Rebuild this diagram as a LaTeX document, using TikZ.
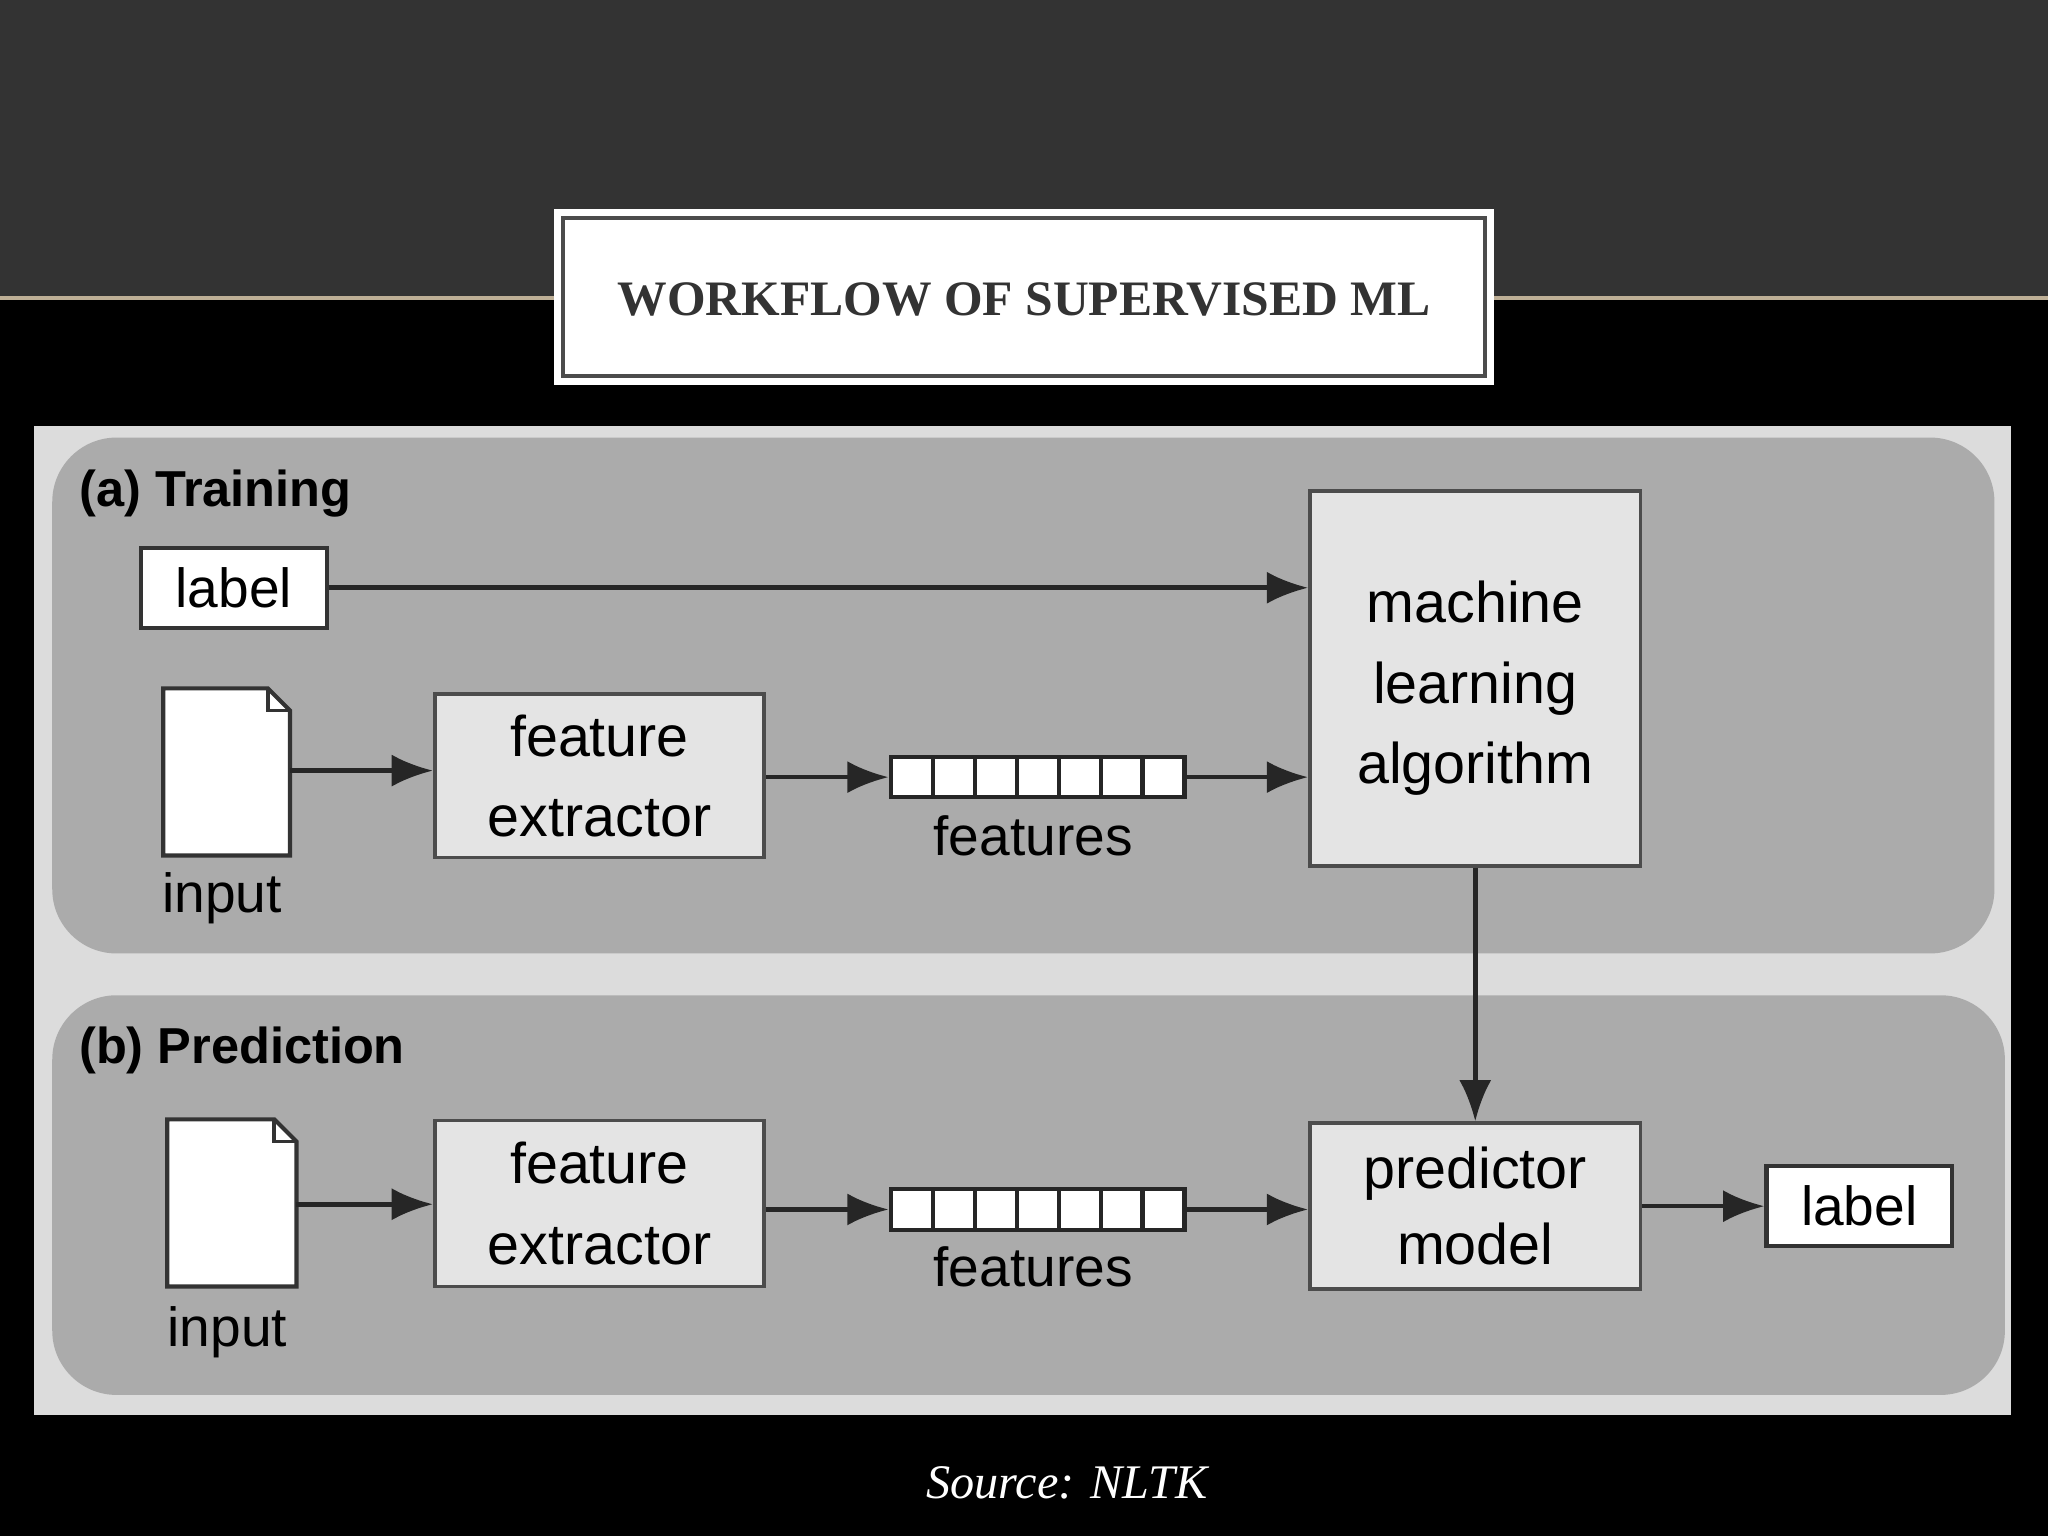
\documentclass[tikz,border=0pt]{standalone}
\usepackage{fontspec}
\setmainfont{Liberation Serif}
\newfontfamily\sansf{Liberation Sans}
\usetikzlibrary{arrows.meta}
\definecolor{band}{HTML}{333333}
\definecolor{panel}{HTML}{ABABAB}
\definecolor{outer}{HTML}{DCDCDC}
\definecolor{boxc}{HTML}{E4E4E4}
\begin{document}
\begin{tikzpicture}[x=0.01cm,y=-0.01cm,
  box/.style={draw=gray!60!black,fill=boxc,line width=0.8pt,font=\sansf\fontsize{12.5}{17.5}\selectfont,align=center,inner sep=0pt,minimum width=2.52cm},
  lab/.style={draw=black!80,fill=white,line width=0.9pt,font=\sansf\fontsize{12}{14}\selectfont,inner sep=0pt,minimum width=1.42cm,minimum height=0.61cm},
  txt/.style={font=\sansf\fontsize{12}{14}\selectfont,inner sep=0pt},
  cell/.style={draw=black!85,fill=white,line width=0.9pt,inner sep=0pt,minimum width=0.3214cm,minimum height=0.31cm},
  arr/.style={-{Latex[length=9pt,width=7pt]},line width=1pt,black!85}]
\useasboundingbox (0,0) rectangle (1568,1176);
\fill[black] (0,0) rectangle (1568,1176);
\fill[band] (0,0) rectangle (1568,228);
\draw[color={rgb,255:red,190;green,175;blue,150},line width=0.8pt] (0,228) -- (1568,228);
\draw[white,line width=1.2pt,fill=white] (426,162) rectangle (1142,293);
\draw[black!70,line width=0.8pt] (431,167) rectangle (1137,288);
\node[font=\bfseries\fontsize{10.8}{12}\selectfont,text=black!80] (title) at (784,229) {WORKFLOW OF SUPERVISED ML};
% diagram
\fill[outer] (26,326) rectangle (1540,1083);
\fill[panel,rounded corners=14pt] (40,335) rectangle (1527,730);
\fill[panel,rounded corners=14pt] (40,762) rectangle (1535,1068);
\node[txt,font=\sansf\bfseries\fontsize{11}{13}\selectfont,anchor=west] (ta) at (60,378) {(a) Training};
\node[txt,font=\sansf\bfseries\fontsize{11}{13}\selectfont,anchor=west] (tb) at (60,804) {(b) Prediction};
% training
\node[lab] (l1) at (179,450) {label};
\draw[fill=white,draw=black!80,line width=0.9pt] (125,527) -- (205,527) -- (222,544) -- (222,655) -- (125,655) -- cycle;
\draw[black!80,line width=0.8pt] (205,527) -- (205,544) -- (222,544);
\coordinate (d1) at (222,590);
\node[txt] (in1) at (170,688) {input};
\node[box,minimum height=1.25cm] (fe1) at (459,594) {feature\\extractor};
\foreach \i in {0,...,6}{\node[cell] (a\i) at (698+\i*32.14,595) {};}
\node[txt] (f1) at (791,640) {features};
\node[box,minimum width=2.53cm,minimum height=2.87cm] (mla) at (1129.5,519.5) {};
\node[txt,font=\sansf\fontsize{12.5}{17.5}\selectfont,align=center] (mlat) at (1129.5,527) {machine\\learning\\algorithm};
\draw[arr] (l1) -- (l1 -| mla.west);
\draw[arr] (d1) -- (d1 -| fe1.west);
\draw[arr] (fe1.east |- a0) -- (a0.west);
\draw[arr] (a6.east) -- (a6 -| mla.west);
% prediction
\draw[fill=white,draw=black!80,line width=0.9pt] (128,857) -- (210,857) -- (227,874) -- (227,985) -- (128,985) -- cycle;
\draw[black!80,line width=0.8pt] (210,857) -- (210,874) -- (227,874);
\coordinate (d2) at (227,922);
\node[txt] (in2) at (174,1020) {input};
\node[box,minimum height=1.27cm] (fe2) at (459,921.5) {feature\\extractor};
\foreach \i in {0,...,6}{\node[cell] (b\i) at (698+\i*32.14,926) {};}
\node[txt] (f2) at (791,970) {features};
\node[box,minimum width=2.53cm,minimum height=1.27cm,font=\sansf\fontsize{12.5}{16.5}\selectfont] (pm) at (1129.5,923.5) {predictor\\model};
\node[lab] (l2) at (1423.5,923.5) {label};
\draw[arr] (d2) -- (d2 -| fe2.west);
\draw[arr] (fe2.east |- b0) -- (b0.west);
\draw[arr] (b6.east) -- (b6 -| pm.west);
\draw[arr] (pm.east |- l2) -- (l2.west);
\draw[arr] (mla.south) -- (pm.north);
\node[white,font=\itshape\fontsize{10.5}{12}\selectfont] (src) at (817,1135) {Source: NLTK};
\end{tikzpicture}
\end{document}
